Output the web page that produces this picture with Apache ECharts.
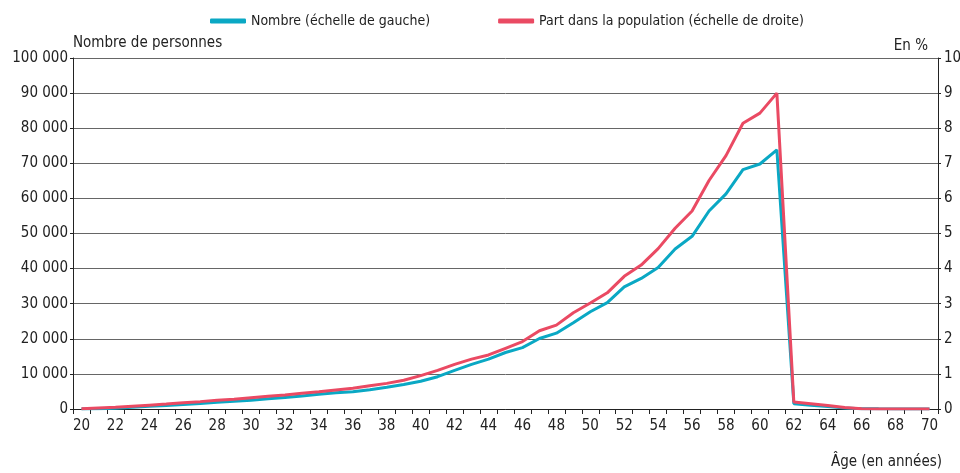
<!DOCTYPE html>
<html lang="fr">
<head>
<meta charset="UTF-8">
<title>Nombre et part par âge</title>
<script src="https://cdn.jsdelivr.net/npm/echarts@6/dist/echarts.min.js"></script>
<style>
  html, body { margin: 0; padding: 0; background: #fff; }
  #chart { width: 960px; height: 473px; }
</style>
</head>
<body>
<div id="chart"></div>
<script>
// ages 20 a 70
var ages = [];
for (var a = 20; a <= 70; a++) ages.push(String(a));

// nombre de personnes (echelle de gauche)
var nombre = [
  0, 100, 200, 500, 800, 1000, 1300, 1600, 1900, 2200,
  2500, 2900, 3300, 3700, 4200, 4600, 4900, 5500, 6200, 7000,
  7900, 9200, 11000, 12700, 14200, 16100, 17500, 20100, 21600, 24600,
  27700, 30300, 34800, 37200, 40300, 45600, 49200, 56400, 61300, 68200,
  69800, 73800, 1500, 1100, 700, 300, 100, 50, 30, 20,
  10
];

// part dans la population, en % (echelle de droite)
var part = [
  0.01, 0.03, 0.05, 0.08, 0.11, 0.14, 0.18, 0.21, 0.25, 0.28,
  0.32, 0.36, 0.40, 0.45, 0.49, 0.54, 0.59, 0.66, 0.73, 0.82,
  0.95, 1.10, 1.27, 1.42, 1.54, 1.73, 1.92, 2.23, 2.39, 2.74,
  3.02, 3.31, 3.78, 4.10, 4.57, 5.15, 5.64, 6.51, 7.22, 8.14,
  8.43, 9.00, 0.20, 0.15, 0.10, 0.04, 0.01, 0, 0, 0,
  0
];

var font = "'Liberation Sans Narrow', 'DejaVu Sans Condensed', sans-serif";

var chart = echarts.init(document.getElementById('chart'));

var option = {
  textStyle: { fontFamily: font, color: '#222' },
  color: ['#0aa8c4', '#ea4a63'],
  legend: {
    top: 9,
    left: 205,
    itemWidth: 36,
    itemHeight: 5,
    itemGap: 68,
    icon: 'roundRect',
    textStyle: { fontSize: 14, fontFamily: font, color: '#222' },
    data: ['Nombre (échelle de gauche)', 'Part dans la population (échelle de droite)']
  },
  grid: { left: 73, right: 22, top: 58, bottom: 64, outerBoundsMode: 'none', containLabel: false },
  xAxis: {
    type: 'category',
    data: ages,
    boundaryGap: true,
    axisLine: { lineStyle: { color: '#222', width: 1 } },
    axisTick: { show: true, interval: 0, length: 5, lineStyle: { color: '#222' } },
    axisLabel: { interval: 1, fontSize: 15, color: '#222', margin: 10, fontFamily: font }
  },
  yAxis: [{
    type: 'value',
    min: 0, max: 100000, interval: 10000,
    name: 'Nombre de personnes',
    nameLocation: 'end',
    nameGap: 0,
    nameTextStyle: { align: 'left', fontSize: 15, color: '#222', fontFamily: font },
    axisLine: { show: true, lineStyle: { color: '#222' } },
    axisTick: { show: true, length: 3, lineStyle: { color: '#222' } },
    axisLabel: {
      fontSize: 15, color: '#222', margin: 5, fontFamily: font,
      formatter: function (v) { return String(v).replace(/\B(?=(\d{3})+(?!\d))/g, ' '); }
    },
    splitLine: { show: true, lineStyle: { color: '#666', width: 1 } }
  }, {
    type: 'value',
    min: 0, max: 10, interval: 1,
    name: 'En %',
    nameLocation: 'end',
    nameGap: 4,
    nameTextStyle: { align: 'right', fontSize: 15, color: '#222', fontFamily: font, padding: [0, 10, 0, 0] },
    axisLine: { show: true, lineStyle: { color: '#222' } },
    axisTick: { show: true, length: 3, lineStyle: { color: '#222' } },
    axisLabel: { fontSize: 15, color: '#222', margin: 6, fontFamily: font },
    splitLine: { show: false }
  }],
  graphic: [{
    type: 'text',
    right: 18,
    top: 455,
    style: { text: 'Âge (en années)', fontSize: 15, fill: '#222', fontFamily: font }
  }],
  series: [{
    name: 'Nombre (échelle de gauche)',
    type: 'line',
    yAxisIndex: 0,
    data: nombre,
    symbol: 'none',
    lineStyle: { width: 3 }
  }, {
    name: 'Part dans la population (échelle de droite)',
    type: 'line',
    yAxisIndex: 1,
    data: part,
    symbol: 'none',
    lineStyle: { width: 3 }
  }]
};
chart.setOption(option);
</script>
</body>
</html>
